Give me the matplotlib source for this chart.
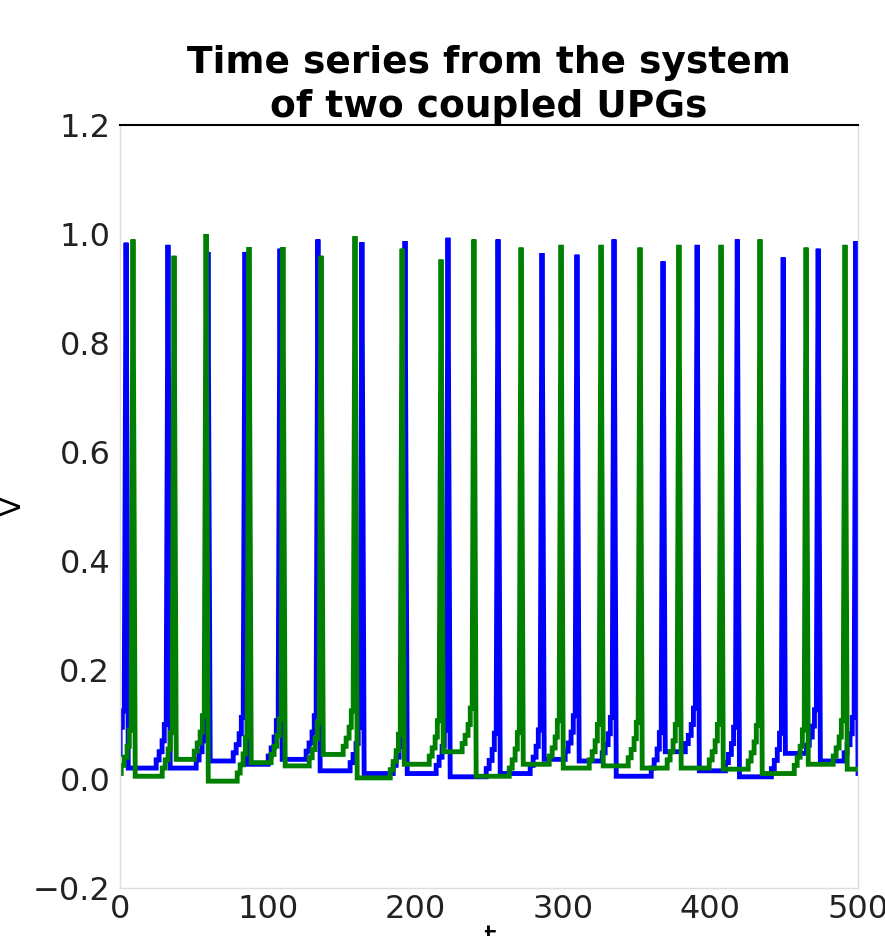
import matplotlib
matplotlib.use("Agg")
import matplotlib.pyplot as plt

# ---- data ----
# spike times, spike peaks, resting level reached after each spike
blue_start = 0.045
blue_spike_t = [4.1, 32.5, 59.6, 84.7, 108.4, 134.1, 163.9, 193.1, 222.2, 256.1,
                285.9, 309.6, 334.7, 367.9, 391.0, 418.2, 449.3, 473.0, 498.6]
blue_peak = [0.984, 0.98, 0.967, 0.967, 0.973, 0.99, 0.985, 0.987, 0.993, 0.99,
             0.965, 0.962, 0.99, 0.95, 0.98, 0.99, 0.957, 0.973, 0.987]
blue_rest = [0.02, 0.02, 0.033, 0.027, 0.036, 0.015, 0.01, 0.01, 0.004, 0.01,
             0.036, 0.033, 0.005, 0.05, 0.015, 0.004, 0.047, 0.033, 0.01]

green_start = 0.01
green_spike_t = [8.8, 36.6, 58.3, 87.4, 110.4, 136.2, 159.2, 191.1, 217.5, 239.8,
                 271.7, 298.8, 325.9, 352.3, 378.7, 407.2, 433.6, 464.8, 491.2]
green_peak = [0.99, 0.96, 1.0, 0.976, 0.976, 0.96, 0.996, 0.973, 0.953, 0.99,
              0.975, 0.98, 0.98, 0.975, 0.98, 0.98, 0.99, 0.975, 0.98]
green_rest = [0.005, 0.036, -0.004, 0.03, 0.024, 0.045, 0.002, 0.027, 0.05, 0.005,
              0.027, 0.02, 0.024, 0.02, 0.02, 0.018, 0.01, 0.027, 0.018]

# pre-spike staircase (time offset, rise above rest) read from the rising edges
ramp_dt = [-8.0, -6.0, -4.0, -2.5, -1.2]
ramp_dv = [0.015, 0.03, 0.05, 0.08, 0.12]
fall_dt = 1.5

t_end = 500.0


def build(start, ts, peaks, rests):
    tt = [0.0]
    vv = [start]
    prev = start
    for t, p, r in zip(ts, peaks, rests):
        level = prev
        for dt, dv in zip(ramp_dt, ramp_dv):
            tr = t + dt
            if tr > tt[-1]:
                tt.append(tr)
                vv.append(level)
                level = max(level, prev + dv)
                tt.append(tr)
                vv.append(level)
        tt.append(t)
        vv.append(p)
        tt.append(min(t + fall_dt, t_end))
        vv.append(r)
        prev = r
    if tt[-1] < t_end:
        tt.append(t_end)
        vv.append(prev)
    return tt, vv


bt, bv = build(blue_start, blue_spike_t, blue_peak, blue_rest)
gt, gv = build(green_start, green_spike_t, green_peak, green_rest)

fig = plt.figure(figsize=(8.85, 9.36), dpi=100)
ax = fig.add_axes([0.1356, 0.0513, 0.8339, 0.8152])

ax.plot(bt, bv, color="#0000ff", lw=3.5, solid_joinstyle="miter")
ax.plot(gt, gv, color="#008000", lw=3.5, solid_joinstyle="miter")

ax.set_xlim(0, 500)
ax.set_ylim(-0.2, 1.2)
ax.set_xticks([0, 100, 200, 300, 400, 500])
ax.set_yticks([-0.2, 0.0, 0.2, 0.4, 0.6, 0.8, 1.0, 1.2])
ax.tick_params(axis="both", length=0, labelsize=23, colors="#222222")
ax.tick_params(axis="x", pad=4)
ax.tick_params(axis="y", pad=7)

for side in ["left", "right", "bottom"]:
    ax.spines[side].set_color("#dddddd")
    ax.spines[side].set_linewidth(1.0)
ax.spines["top"].set_color("black")
ax.spines["top"].set_linewidth(1.5)

ax.set_title("Time series from the system\nof two coupled UPGs",
             fontsize=27, fontweight="bold", pad=-2, linespacing=1.3)
ax.set_xlabel("t", fontsize=23)
ax.set_ylabel("V", fontsize=21)
ax.xaxis.set_label_coords(0.5, -0.047)
ax.yaxis.set_label_coords(-0.126, 0.5)

fig.savefig("out.png", dpi=100)
